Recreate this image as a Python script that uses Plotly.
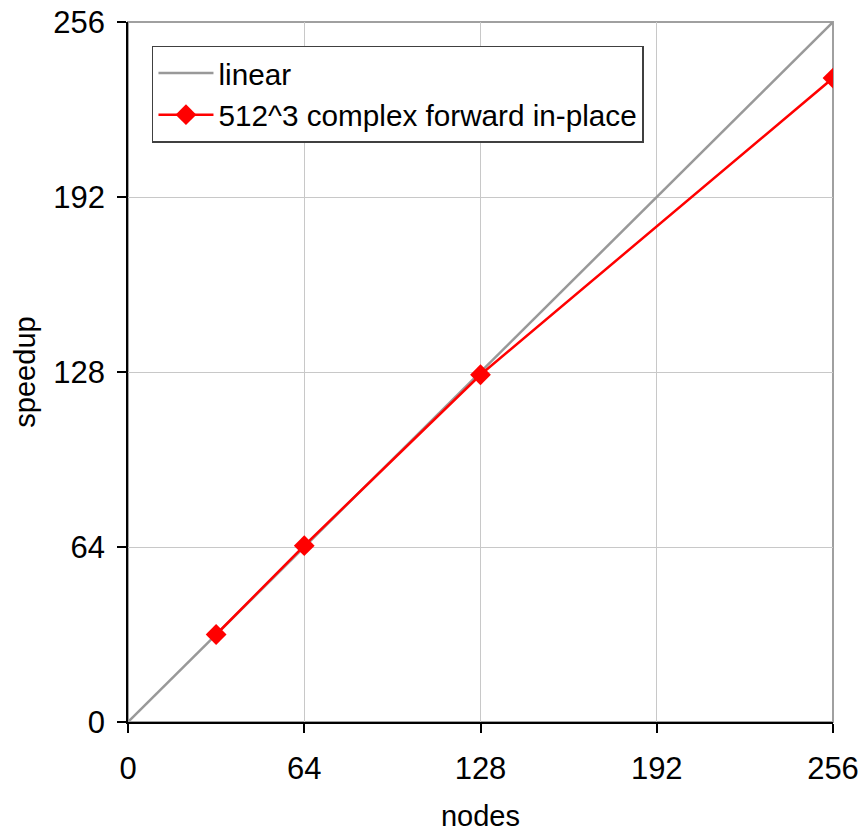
import plotly.graph_objects as go

nodes = [32, 64, 128, 256]
speedup = [32, 64.5, 127, 235.5]
linear_x = [0, 256]
linear_y = [0, 256]
ticks = [0, 64, 128, 192, 256]

FONT = "Liberation Sans, Arial, sans-serif"

fig = go.Figure()
fig.add_trace(go.Scatter(x=linear_x, y=linear_y, mode="lines", name="linear",
                         legendgroup="a",
                         line=dict(color="#999999", width=2.5)))
fig.add_trace(go.Scatter(x=nodes, y=speedup, mode="lines+markers",
                         name="512^3 complex forward in-place", legendgroup="b",
                         line=dict(color="#ff0000", width=2.5),
                         marker=dict(symbol="diamond", size=16, color="#ff0000")))

fig.add_shape(type="rect", xref="paper", yref="paper", x0=0, y0=0, x1=1, y1=1,
              line=dict(color="#a0a0a0", width=2), layer="below")

axis_common = dict(range=[0, 256], tickvals=ticks, ticktext=[str(t) for t in ticks],
                   showgrid=True, gridcolor="#c8c8c8", gridwidth=1,
                   zeroline=False, showline=True, linecolor="black", linewidth=1.5,
                   ticks="outside", ticklen=9, tickcolor="black", tickwidth=1.5,
                   automargin=False,
                   tickfont=dict(family=FONT, size=31, color="black"))

fig.update_xaxes(**axis_common, title=dict(text="nodes", font=dict(family=FONT, size=29, color="black"), standoff=31),
                 ticklabelstandoff=9)
fig.update_yaxes(**axis_common, title=dict(text="speedup", font=dict(family=FONT, size=29, color="black"), standoff=9),
                 ticklabelstandoff=6)

fig.update_layout(
    width=861, height=832,
    margin=dict(l=128, r=28, t=22, b=110),
    plot_bgcolor="white", paper_bgcolor="white",
    font=dict(family=FONT, size=29, color="black"),
    showlegend=True,
    legend=dict(x=0.034, y=0.966, xanchor="left", yanchor="top",
                bgcolor="white", bordercolor="#404040", borderwidth=1.5,
                font=dict(family=FONT, size=29.7, color="black"),
                itemwidth=55, tracegroupgap=0),
)

fig.write_html("out.html")
